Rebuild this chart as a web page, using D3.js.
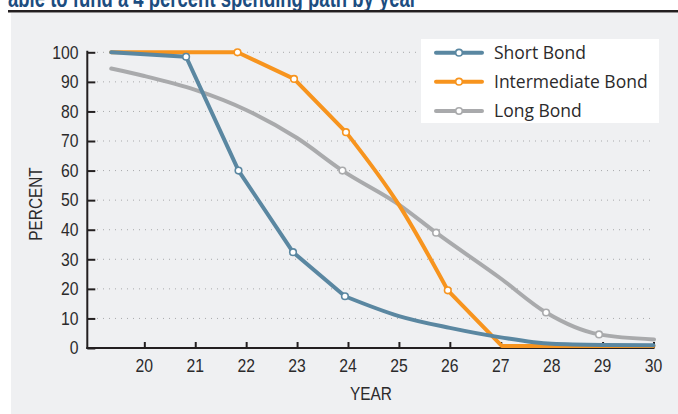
<!DOCTYPE html>
<html>
<head>
<meta charset="utf-8">
<script src="https://cdn.jsdelivr.net/npm/d3@7/dist/d3.min.js"></script>
<style>
  html, body { margin: 0; padding: 0; background: #ffffff; }
  svg { display: block; }
</style>
</head>
<body>
<svg id="chart" width="678" height="414"></svg>
<script>
// ---- Data ----
const titleText = "able to fund a 4 percent spending path by year";
const xTicks = [20, 21, 22, 23, 24, 25, 26, 27, 28, 29, 30];
const yTicks = [0, 10, 20, 30, 40, 50, 60, 70, 80, 90, 100];
const seriesNames = ["Short Bond", "Intermediate Bond", "Long Bond"];

const shortYears  = [19.35, 20.82, 21.85, 22.92, 23.94, 25, 26, 27, 28, 29, 30];
const shortValues = [100, 98.5, 60, 32.4, 17.5, 10.8, 6.8, 3.6, 1.4, 1.0, 0.9];
const shortMarked = [1, 2, 3, 4];

const interYears  = [19.35, 21.83, 22.94, 23.96, 25, 25.96, 27.02, 30];
const interValues = [100, 100, 91, 73, 48.4, 19.5, 0.7, 0.7];
const interMarked = [1, 2, 3, 5];

const longYears  = [19.35, 20, 21, 22, 23, 23.89, 25, 25.73, 27, 27.89, 28.93, 30.01];
const longValues = [94.5, 92, 87.3, 80.5, 71, 60, 48.5, 39, 23.5, 12, 4.6, 2.9];
const longMarked = [5, 7, 9, 10];

// ---- Layout ----
const svg = d3.select("#chart");
const W = 678, H = 414;

const x = d3.scaleLinear().domain([18.88, 30]).range([87.3, 653.5]);
const y = d3.scaleLinear().domain([0, 100]).range([348, 52.3]);

const sans = "'Liberation Sans', Arial, sans-serif";
const textColor = "#2b2a2b";

// helper: horizontally condensed text
function condText(parent, tx, ty, str, size, sx, anchor, opts = {}) {
  const t = parent.append("text")
    .attr("transform", `translate(${tx},${ty}) ${opts.rotate ? "rotate(" + opts.rotate + ")" : ""} scale(${sx},1)`)
    .attr("text-anchor", anchor)
    .attr("font-family", sans)
    .attr("font-size", size)
    .attr("fill", opts.fill || textColor)
    .text(str);
  if (opts.weight) t.attr("font-weight", opts.weight);
  if (opts.dy) t.attr("dy", opts.dy);
  return t;
}

// title strip
condText(svg, 8, 6.5, titleText, 25, 0.74, "start", { weight: "bold", fill: "#1c4d80" });

svg.append("rect")
  .attr("x", 8).attr("y", 10).attr("width", W - 8).attr("height", 2.5)
  .attr("fill", "#231f20");

// panel
svg.append("rect")
  .attr("x", 11).attr("y", 13).attr("width", W - 11).attr("height", H - 13)
  .attr("fill", "#eff0f2");

// gridlines
svg.append("g").selectAll("line")
  .data(yTicks.filter(d => d > 0))
  .join("line")
  .attr("x1", 97).attr("x2", 652)
  .attr("y1", d => y(d)).attr("y2", d => y(d))
  .attr("stroke", "#a8a9ab")
  .attr("stroke-width", 1)
  .attr("stroke-dasharray", "1,5");

// y axis
const yAxis = d3.axisRight(y).tickValues(yTicks).tickSize(8).tickFormat("");
const gy = svg.append("g").attr("transform", `translate(${x.range()[0]},0)`).call(yAxis);
gy.select(".domain").remove();
gy.selectAll(".tick line").attr("stroke", "#231f20").attr("stroke-width", 2);

svg.append("line")
  .attr("x1", x.range()[0]).attr("x2", x.range()[0])
  .attr("y1", 50.8).attr("y2", 349)
  .attr("stroke", "#231f20").attr("stroke-width", 2);

const gyl = svg.append("g");
yTicks.forEach(d => condText(gyl, 78.5, y(d), d, 17.5, 0.9, "end", { dy: "0.36em" }));

// x axis
const xAxis = d3.axisTop(x).tickValues(xTicks).tickSize(6).tickFormat("");
const gx = svg.append("g").attr("transform", `translate(0,${y(0)})`).call(xAxis);
gx.select(".domain").remove();
gx.selectAll(".tick line").attr("stroke", "#231f20").attr("stroke-width", 2);

svg.append("line")
  .attr("x1", x.range()[0] - 1).attr("x2", x(30) + 1)
  .attr("y1", y(0)).attr("y2", y(0))
  .attr("stroke", "#231f20").attr("stroke-width", 2);

const gxl = svg.append("g");
xTicks.forEach(d => condText(gxl, x(d), 365.5, d, 17.5, 0.9, "middle", { dy: "0.36em" }));

// axis titles
condText(svg, 35.5, 204, "PERCENT", 17.5, 0.88, "middle", { rotate: -90, dy: "0.36em" });
condText(svg, 371, 394, "YEAR", 17.5, 0.88, "middle", { dy: "0.36em" });

// ---- series ----
const colors = ["#5a87a1", "#f7941e", "#a9aaac"];
// segments: [startIndex, endIndex, smooth?]
const series = [
  { name: seriesNames[0], years: shortYears, values: shortValues, marked: shortMarked, color: colors[0],
    segments: [[0, 4, false], [4, shortYears.length - 1, true]] },
  { name: seriesNames[1], years: interYears, values: interValues, marked: interMarked, color: colors[1],
    segments: [[0, 3, false], [3, 5, true], [5, interYears.length - 1, false]] },
  { name: seriesNames[2], years: longYears, values: longValues, marked: longMarked, color: colors[2],
    segments: [[0, longYears.length - 1, true]] }
];

const linLine = d3.line().x(d => x(d[0])).y(d => y(d[1])).curve(d3.curveLinear);
const smoothLine = d3.line().x(d => x(d[0])).y(d => y(d[1])).curve(d3.curveMonotoneX);

const drawOrder = [2, 1, 0];
drawOrder.forEach(i => {
  const s = series[i];
  const pts = s.years.map((yr, j) => [yr, s.values[j]]);
  const g = svg.append("g");
  s.segments.forEach(([a, b, smooth]) => {
    g.append("path").attr("d", (smooth ? smoothLine : linLine)(pts.slice(a, b + 1)))
      .attr("fill", "none").attr("stroke", s.color).attr("stroke-width", 4)
      .attr("stroke-linejoin", "round").attr("stroke-linecap", "round");
  });
  g.selectAll("circle")
    .data(s.marked.map(j => pts[j]))
    .join("circle")
    .attr("cx", d => x(d[0])).attr("cy", d => y(d[1]))
    .attr("r", 3.3)
    .attr("fill", "#ffffff")
    .attr("stroke", s.color)
    .attr("stroke-width", 1.6);
});

// ---- legend ----
const lg = svg.append("g");
lg.append("rect")
  .attr("x", 421).attr("y", 39).attr("width", 238).attr("height", 84)
  .attr("fill", "#ffffff");
const rowsY = [52.7, 81.7, 111];
series.forEach((s, i) => {
  const ry = rowsY[i];
  lg.append("line")
    .attr("x1", 436).attr("x2", 482).attr("y1", ry).attr("y2", ry)
    .attr("stroke", s.color).attr("stroke-width", 4).attr("stroke-linecap", "round");
  lg.append("circle")
    .attr("cx", 459).attr("cy", ry).attr("r", 3.3)
    .attr("fill", "#ffffff").attr("stroke", s.color).attr("stroke-width", 1.6);
  lg.append("text")
    .attr("x", 494).attr("y", ry)
    .attr("dy", "0.35em")
    .attr("font-family", "'Open Sans', 'Noto Sans', sans-serif")
    .attr("font-size", 17.5)
    .attr("fill", textColor)
    .text(s.name);
});
</script>
</body>
</html>
